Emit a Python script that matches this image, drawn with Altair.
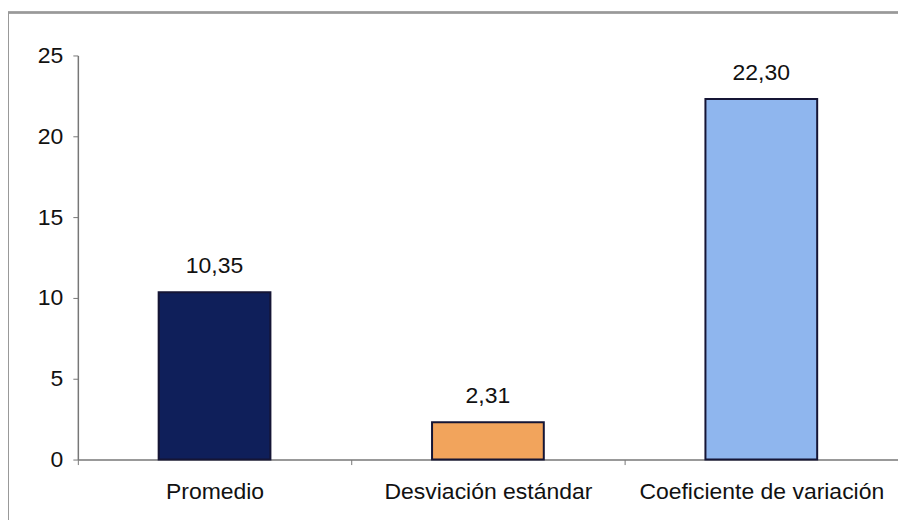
import altair as alt
import pandas as pd

categories = ["Promedio", "Desviación estándar", "Coeficiente de variación"]
values = [10.35, 2.31, 22.30]
colors = ["#0f1f5a", "#f2a45c", "#8fb6ee"]
y_ticks = [0, 5, 10, 15, 20, 25]

df = pd.DataFrame({
    "cat": categories,
    "val": values,
    "label": [f"{v:.2f}".replace(".", ",") for v in values],
    "color": colors,
})

FONT = "Liberation Sans"
FS = 23

x_enc = alt.X("cat:N", sort=categories, title=None,
              scale=alt.Scale(paddingInner=0.0, paddingOuter=0.0),
              axis=alt.Axis(labelAngle=0, labelFont=FONT, labelFontSize=FS,
                            labelColor="#111", labelPadding=16, labelLimit=0,
                            tickBand="extent",
                            tickSize=5, tickColor="#777", domainColor="#777",
                            domainWidth=1.5))
y_enc = alt.Y("val:Q", title=None,
              scale=alt.Scale(domain=[0, 25], nice=False),
              axis=alt.Axis(values=y_ticks, grid=False, labelFont=FONT,
                            labelFontSize=FS, labelColor="#111", labelPadding=10,
                            tickSize=5, tickColor="#777", domainColor="#777",
                            domainWidth=1.5))

bars = alt.Chart(df).mark_bar(size=112, stroke="#151535", strokeWidth=2).encode(
    x=x_enc, y=y_enc,
    color=alt.Color("color:N", scale=None),
)

text = alt.Chart(df).mark_text(baseline="bottom", dy=-14, font=FONT,
                               fontSize=FS, color="#111").encode(
    x=alt.X("cat:N", sort=categories), y="val:Q", text="label:N")

frame_top = alt.Chart(df).mark_rule(color="#999", strokeWidth=2).encode(
    x=alt.value(-70), x2=alt.value(830), y=alt.value(-43))
frame_left = alt.Chart(df).mark_rule(color="#999", strokeWidth=2).encode(
    x=alt.value(-70), y=alt.value(-43), y2=alt.value(480))

chart = alt.layer(frame_top, frame_left, bars, text).properties(
    width=822, height=405,
    autosize=alt.AutoSizeParams(type="none"),
    padding={"left": 70, "top": 47, "right": 0, "bottom": 60},
).configure_view(stroke=None)

chart.save("out.html", embed_options={"renderer": "svg", "actions": False})
